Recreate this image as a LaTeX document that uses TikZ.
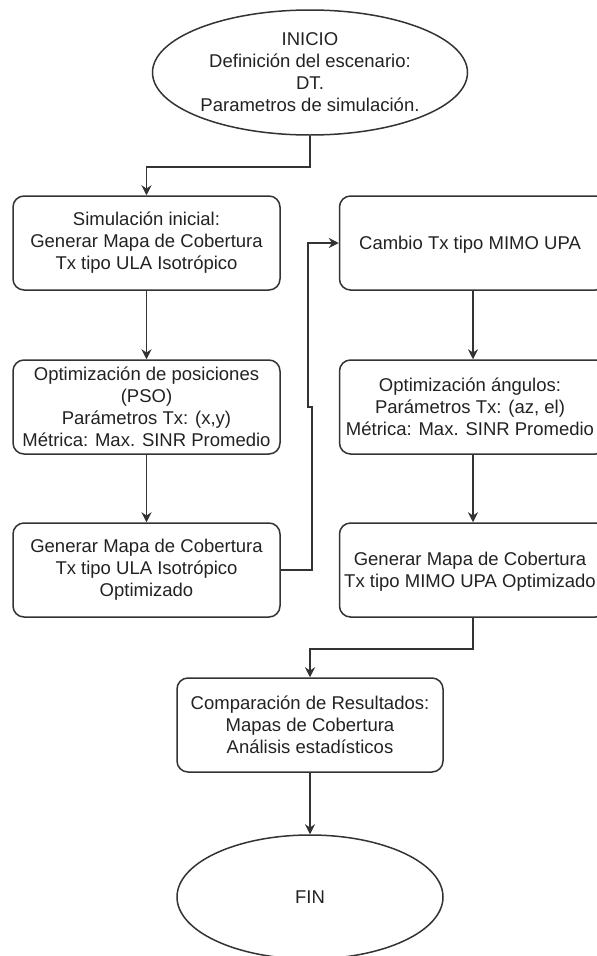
\documentclass[tikz,border=0pt]{standalone}
\usepackage{fontspec}
\setmainfont{Liberation Sans}
\usetikzlibrary{shapes.geometric,arrows.meta}
\definecolor{ln}{HTML}{333333}
\definecolor{tx}{HTML}{222222}
\begin{document}
\begin{tikzpicture}[x=1pt,y=-1pt,
  every node/.style={font=\fontsize{18.5}{22}\selectfont, text=tx, align=center},
  box/.style={draw=ln, line width=1.5pt, rounded corners=11pt, minimum width=267pt, minimum height=94pt, inner sep=0pt},
  oval/.style={draw=ln, line width=1.5pt, ellipse, inner sep=0pt},
  arr/.style={draw=ln, line width=1.5pt, -{Stealth[length=10pt,width=10pt]}}]
\useasboundingbox (0,0) rectangle (597,956);
\node[oval, minimum width=315pt, minimum height=125pt] (start) at (310,72.5)
  {INICIO\\Definición del escenario:\\DT.\\Parametros de simulación.};
\node[box] (b1) at (146.5,243) {Simulación inicial:\\Generar Mapa de Cobertura\\Tx tipo ULA Isotrópico};
\node[box] (b2) at (146.5,407) {Optimización de posiciones\\(PSO)\\Parámetros Tx: (x,y)\\Métrica: Max. SINR Promedio};
\node[box] (b3) at (146.5,570) {Generar Mapa de Cobertura\\Tx tipo ULA Isotrópico\\Optimizado};
\node[box] (r1) at (473,243) {};
\node at (470,245) {Cambio Tx tipo MIMO UPA};
\node[box] (r2) at (473,407) {};
\node at (470,407) {Optimización ángulos:\\Parámetros Tx: (az, el)\\Métrica: Max. SINR Promedio};
\node[box] (r3) at (473,570) {};
\node at (470,572) {Generar Mapa de Cobertura\\Tx tipo MIMO UPA Optimizado};
\node[box, minimum width=266pt] (cmp) at (310,725) {Comparación de Resultados:\\Mapas de Cobertura\\Análisis estadísticos};
\node[oval, minimum width=266pt, minimum height=124pt] (fin) at (310,897) {FIN};
\draw[arr] (start.south) -- ++(0,31) -| (b1.north);
\draw[arr] (b1.south) -- (b2.north);
\draw[arr] (b2.south) -- (b3.north);
\draw[arr] (b3.east) -| (312,407) -- (308,407) |- (r1.west);
\draw[arr] (r1.south) -- (r2.north);
\draw[arr] (r2.south) -- (r3.north);
\draw[arr] (r3.south) -- ++(0,31) -| (cmp.north);
\draw[arr] (cmp.south) -- (fin.north);
\end{tikzpicture}
\end{document}
